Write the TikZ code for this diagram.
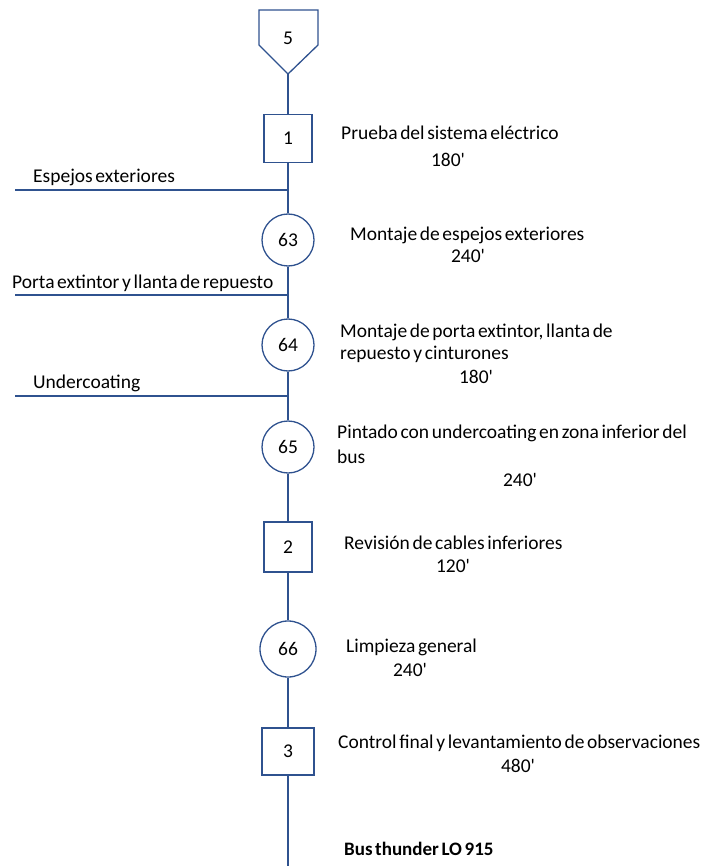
\documentclass[tikz,border=0pt]{standalone}
\usepackage{fontspec}
\setmainfont{Carlito}[WordSpace=0.6]
\definecolor{ln}{RGB}{47,82,143}
\newcommand{\mn}{\textquotesingle}
\begin{document}
\begin{tikzpicture}[x=1pt,y=-1pt,
  every node/.style={font=\fontsize{19.5}{23}\selectfont, text=black},
  op/.style={draw=ln, line width=1.3pt, circle, minimum size=52pt, inner sep=0pt},
  insp/.style={draw=ln, line width=1.3pt, rectangle, minimum width=48pt, minimum height=48pt, inner sep=0pt},
  txt/.style={anchor=west, inner sep=0pt},
  num/.style={inner sep=0pt},
  conn/.style={draw=ln, line width=1.3pt}]
\useasboundingbox (0,0) rectangle (702,866);
% start pentagon
\draw[conn, line join=miter] (259,10) -- (318,10) -- (318,45) -- (288,74) -- (259,45) -- cycle;
\node (n5) at (288,38) {5};
\coordinate (p5) at (288,74);
% nodes
\node[insp] (b1) at (288,138.5) {1};
\node[op] (c63) at (288,240) {63};
\node[op] (c64) at (288,345) {64};
\node[op] (c65) at (288,447) {65};
\node[insp, minimum height=50pt] (b2) at (288,547) {2};
\node[op, minimum width=56pt] (c66) at (288,649) {66};
\node[insp, minimum width=52pt, minimum height=47pt] (b3) at (288,751.5) {3};
\coordinate (end) at (288,866);
% junctions
\coordinate (j1) at (288,190);
\coordinate (j2) at (288,295);
\coordinate (j3) at (288,396);
\coordinate (l1) at (15,190);
\coordinate (l2) at (15,295);
\coordinate (l3) at (15,396);
% main line
\draw[conn] (p5) -- (b1.north);
\draw[conn] (b1.south) -- (j1) -- (c63.north);
\draw[conn] (c63.south) -- (j2) -- (c64.north);
\draw[conn] (c64.south) -- (j3) -- (c65.north);
\draw[conn] (c65.south) -- (b2.north);
\draw[conn] (b2.south) -- (c66.north);
\draw[conn] (c66.south) -- (b3.north);
\draw[conn] (b3.south) -- (end);
% side inputs
\draw[conn] (l1) -- (j1);
\draw[conn] (l2) -- (j2);
\draw[conn] (l3) -- (j3);
\node[txt] (i1) at (33,177) {Espejos exteriores};
\node[txt] (i2) at (12,283) {Porta extintor y llanta de repuesto};
\node[txt] (i3) at (33,383) {Undercoating};
% descriptions
\node[txt] (d1) at (341,133) {Prueba del sistema eléctrico};
\node[num] (t1) at (448,160) {180\mn};
\node[txt] (d63) at (350,235) {Montaje de espejos exteriores};
\node[num] (t63) at (468,256) {240\mn};
\node[txt] (d64a) at (340,332) {Montaje de porta extintor, llanta de};
\node[txt] (d64b) at (340,354) {repuesto y cinturones};
\node[num] (t64) at (476,377) {180\mn};
\node[txt] (d65a) at (337,433) {Pintado con undercoating en zona inferior del};
\node[txt] (d65b) at (337,457) {bus};
\node[num] (t65) at (520,480) {240\mn};
\node[txt] (d2) at (344,543) {Revisión de cables inferiores};
\node[num] (t2) at (453,566) {120\mn};
\node[txt] (d66) at (346,647) {Limpieza general};
\node[num] (t66) at (410,670) {240\mn};
\node[txt] (d3) at (338,743) {Control final y levantamiento de observaciones};
\node[num] (t3) at (518,766) {480\mn};
\node[txt, font=\fontsize{19}{22}\selectfont\bfseries] (bus) at (344,849) {Bus thunder LO 915};
\end{tikzpicture}
\end{document}
